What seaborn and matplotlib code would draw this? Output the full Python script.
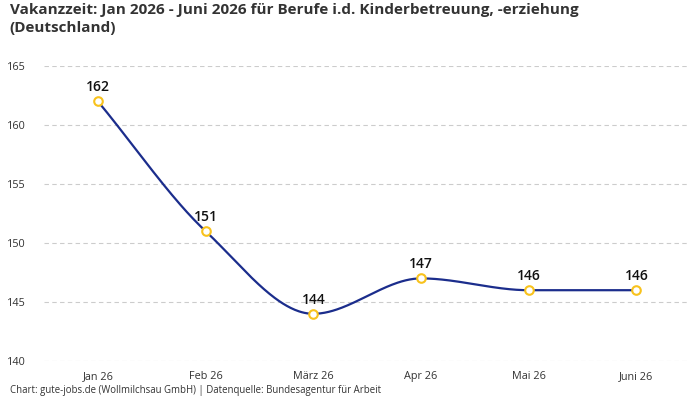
import numpy as np
import pandas as pd
import matplotlib
matplotlib.use("Agg")
import matplotlib.pyplot as plt
import seaborn as sns

months = ["Jan 26", "Feb 26", "März 26", "Apr 26", "Mai 26", "Juni 26"]
values = [162, 151, 144, 147, 146, 146]
y_ticks = [140, 145, 150, 155, 160, 165]

title = "Vakanzzeit: Jan 2026 - Juni 2026 für Berufe i.d. Kinderbetreuung, -erziehung\n(Deutschland)"
footer = "Chart: gute-jobs.de (Wollmilchsau GmbH) | Datenquelle: Bundesagentur für Arbeit"

line_color = "#1b2d8c"
marker_color = "#f8c21c"
text_color = "#333333"

sns.set_theme(style="white")
plt.rcParams["font.family"] = ["Open Sans", "DejaVu Sans"]


def pchip(x, y, xs):
    x = np.asarray(x, float)
    y = np.asarray(y, float)
    h = np.diff(x)
    d = np.diff(y) / h
    n = len(x)
    m = np.zeros(n)
    for k in range(1, n - 1):
        if d[k - 1] * d[k] <= 0:
            m[k] = 0
        else:
            w1 = 2 * h[k] + h[k - 1]
            w2 = h[k] + 2 * h[k - 1]
            m[k] = (w1 + w2) / (w1 / d[k - 1] + w2 / d[k])
    m[0] = d[0]
    m[-1] = d[-1]
    out = np.empty_like(xs)
    for i, xv in enumerate(xs):
        k = min(max(np.searchsorted(x, xv) - 1, 0), n - 2)
        t = (xv - x[k]) / h[k]
        h00 = 2 * t**3 - 3 * t**2 + 1
        h10 = t**3 - 2 * t**2 + t
        h01 = -2 * t**3 + 3 * t**2
        h11 = t**3 - t**2
        out[i] = h00 * y[k] + h10 * h[k] * m[k] + h01 * y[k + 1] + h11 * h[k] * m[k + 1]
    return out


xi = np.arange(len(months))
xs = np.linspace(0, len(months) - 1, 400)
curve = pd.DataFrame({"x": xs, "y": pchip(xi, values, xs)})
pts = pd.DataFrame({"x": xi, "y": values})

fig = plt.figure(figsize=(7, 4), dpi=100)
ax = fig.add_axes([0.063, 0.0975, 0.923, 0.7375])

sns.lineplot(data=curve, x="x", y="y", ax=ax, color=line_color, linewidth=1.6, zorder=3)
sns.scatterplot(data=pts, x="x", y="y", ax=ax, s=38, facecolor="white",
                edgecolor=marker_color, linewidth=1.5, zorder=4)

for x, v in zip(xi, values):
    ax.annotate(str(v), (x, v), xytext=(0, 5), textcoords="offset points",
                ha="center", va="bottom", fontsize=10, fontweight="semibold",
                color="#111111", zorder=5)

ax.set_xlim(-0.5, len(months) - 0.5)
ax.set_ylim(140, 165)
ax.set_yticks(y_ticks)
ax.set_xticks(xi)
ax.set_xticklabels(months)
ax.set_xlabel("")
ax.set_ylabel("")
ax.tick_params(axis="both", length=0, labelsize=7.8, labelcolor=text_color)
ax.tick_params(axis="y", pad=13)
ax.tick_params(axis="x", pad=7)
ax.grid(axis="y", color="#cccccc", linestyle=(0, (4, 3)), linewidth=0.8)
ax.grid(axis="x", visible=False)
for s in ax.spines.values():
    s.set_visible(False)

fig.text(0.014, 0.993, title, ha="left", va="top", fontsize=11, fontweight="bold",
         color=text_color, linespacing=1.4)
fig.text(0.014, 0.018, footer, ha="left", va="baseline", fontsize=6.9, color=text_color)

fig.savefig("out.png", dpi=100)
